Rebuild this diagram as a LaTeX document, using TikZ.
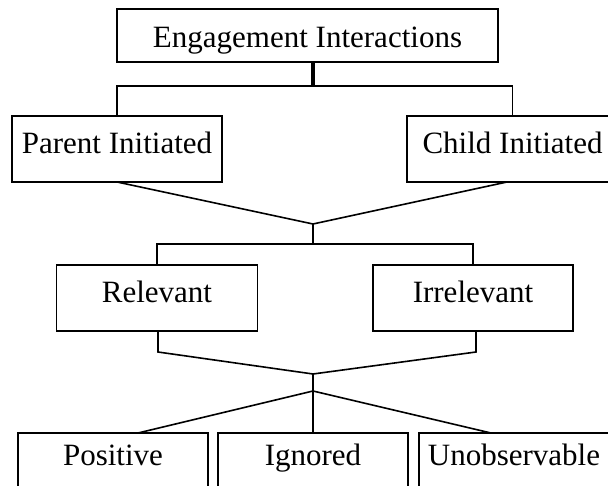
\documentclass[tikz,border=0pt]{standalone}
\usepackage{fontspec}
\setmainfont{Liberation Serif}
\begin{document}
\begin{tikzpicture}[x=1pt,y=-1pt,
  every node/.style={font=\fontsize{31}{36}\selectfont},
  boxbase/.style={draw, line width=1.6pt, inner xsep=0pt, outer sep=0pt},
  topbox/.style={boxbase, minimum width=381pt, minimum height=53pt, text height=23.5pt, text depth=0pt},
  midbox/.style={boxbase, minimum height=66pt, text height=20.5pt, text depth=12pt},
  lowbox/.style={boxbase, anchor=north, inner ysep=12pt, text height=20.5pt, text depth=50pt},
  conn/.style={line width=1.6pt},
  thickconn/.style={line width=3.2pt}]
\useasboundingbox (0,0) rectangle (608,486);
\clip (0,0) rectangle (608,486);
\node[topbox] (eng) at (307.5,35.5) {Engagement Interactions};
\node[midbox, minimum width=210pt] (par) at (117,149) {Parent Initiated};
\node[midbox, minimum width=211pt] (chi) at (512.5,149) {Child Initiated};
\node[midbox, minimum width=201pt] (rel) at (157,298) {Relevant};
\node[midbox, minimum width=200pt] (irr) at (473,298) {Irrelevant};
\node[lowbox, minimum width=190pt] (pos) at (113,433) {Positive};
\node[lowbox, minimum width=190pt] (ign) at (313,433) {Ignored};
\node[lowbox, minimum width=190pt] (uno) at (514,433) {Unobservable};
\coordinate (j1) at (313,86);
\coordinate (j2) at (313,224);
\coordinate (j3) at (313,244);
\coordinate (j4) at (313,374);
\coordinate (j5) at (313,391);
\coordinate (rk) at (158,352);
\coordinate (ik) at (476,352);
% top level
\draw[thickconn] (j1) -- (j1 |- eng.south);
\draw[conn] (par.north) |- (j1) -| (chi.north);
% second level merge
\draw[conn] (par.south) -- (j2);
\draw[conn] ([xshift=-5.5pt]chi.south) -- (j2);
\draw[conn] (j2) -- (j3);
\draw[conn] (rel.north) |- (j3) -| (irr.north);
% third level merge
\draw[conn] (rk |- rel.south) -- (rk) -- (j4);
\draw[conn] (ik |- irr.south) -- (ik) -- (j4);
\draw[conn] (j4) -- (j5);
% bottom split
\draw[conn] (j5) -- (ign.north);
\draw[conn] (j5) -- ([xshift=25pt]pos.north);
\draw[conn] (j5) -- ([xshift=-23pt]uno.north);
\end{tikzpicture}
\end{document}
